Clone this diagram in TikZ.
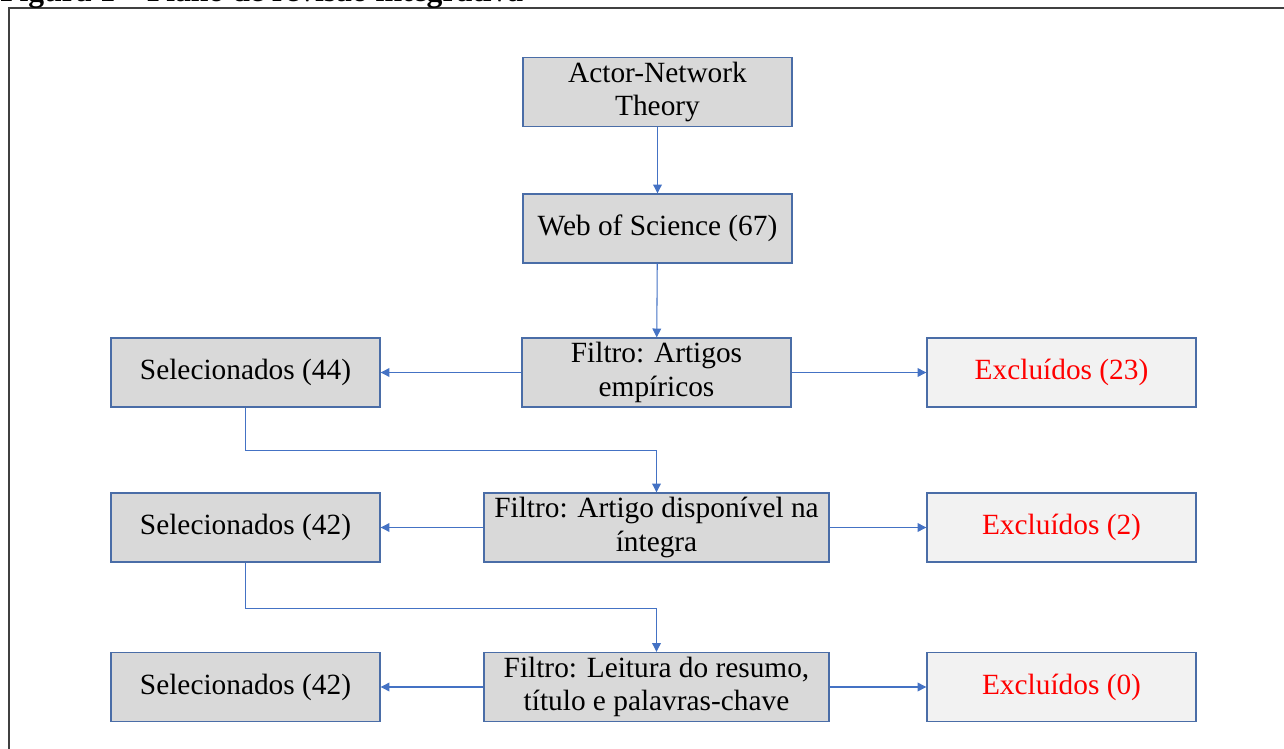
\documentclass[tikz,border=0pt]{standalone}
\usepackage{fontspec}
\setmainfont{Liberation Serif}
\usetikzlibrary{arrows.meta}
\definecolor{boxline}{HTML}{4A6DA7}
\definecolor{linkline}{HTML}{4472C4}
\definecolor{boxfill}{HTML}{D9D9D9}
\definecolor{exclfill}{HTML}{F2F2F2}
\definecolor{framegray}{HTML}{404040}
\begin{document}
\begin{tikzpicture}[x=0.02cm,y=-0.02cm,
  box/.style={draw=boxline,fill=boxfill,line width=0.8pt,minimum width=5.38cm,minimum height=1.38cm,
    align=center,font=\fontsize{16.7}{19}\selectfont,inner sep=2pt},
  excl/.style={box,fill=exclfill,text=red},
  link/.style={draw=linkline,line width=0.6pt,-{Triangle[length=5pt,width=5pt]}}]
  \useasboundingbox (0,0) rectangle (1284,749);
  \draw[framegray,line width=1.1pt] (9,8) rectangle (1310,770);
  \node[anchor=base west,inner sep=0pt,font=\fontsize{18}{20}\selectfont\bfseries] (title) at (0,1.5) {Figura 1 – Plano de revisão integrativa};
  \node[box] (ant) at (657.5,92) {Actor-Network\\Theory};
  \node[box] (wos) at (657.5,228.5) {Web of Science (67)};
  \foreach \y/\filtro/\w/\sel/\exc [count=\i] in {372.5/{Filtro: Artigos\\empíricos}/5.38cm/44/23,
      527.5/{Filtro: Artigo disponível na\\íntegra}/6.9cm/42/2,
      687/{Filtro: Leitura do resumo,\\título e palavras-chave}/6.9cm/42/0} {
    \node[box,minimum width=\w] (f\i) at (656.5,\y) {\filtro};
    \node[box] (s\i) at (245.5,\y) {Selecionados (\sel)};
    \node[excl] (e\i) at (1061.5,\y) {Excluídos (\exc)};
    \draw[link] (f\i) -- (s\i);
    \draw[link] (f\i) -- (e\i);
  }
  \draw[link] (ant) -- (wos);
  \draw[link] (wos) -- (f1);
  \draw[link] (s1.south) -- ++(0,43) -| (f2.north);
  \draw[link] (s2.south) -- ++(0,46) -| (f3.north);
\end{tikzpicture}
\end{document}
